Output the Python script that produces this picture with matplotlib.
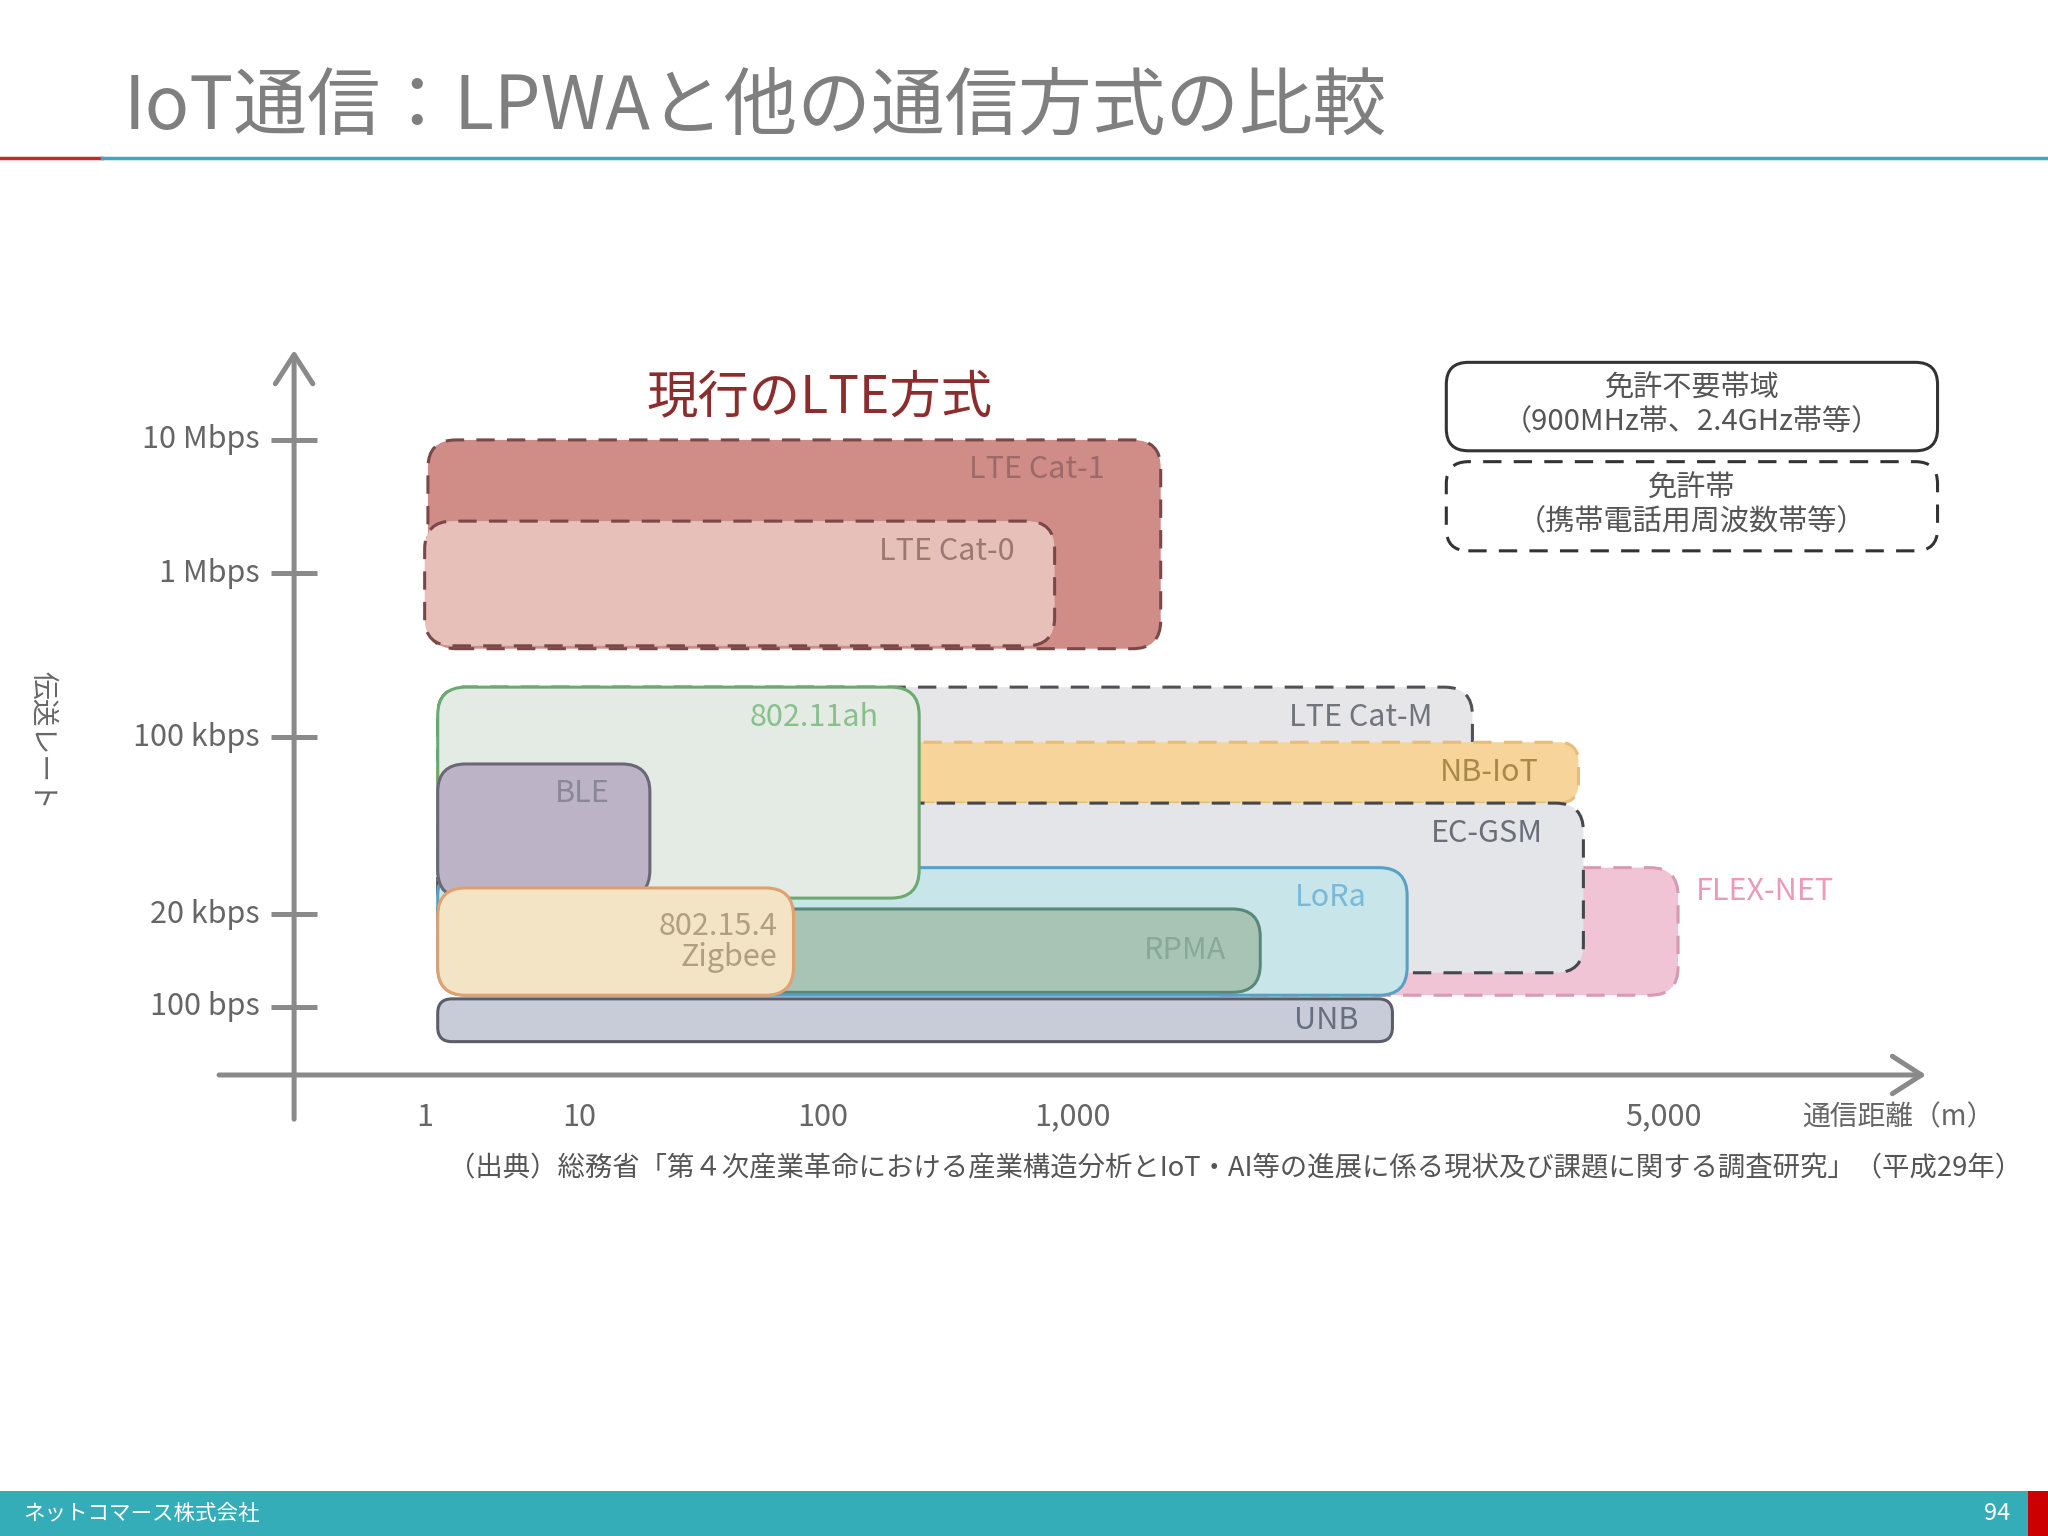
import matplotlib.pyplot as plt
from matplotlib.patches import FancyBboxPatch, Rectangle
from matplotlib.lines import Line2D

plt.rcParams['font.family'] = ['Noto Sans CJK JP', 'DejaVu Sans']

# --------------------------------------------------------------------
# データ（模式図の座標: 横軸=通信距離, 縦軸=伝送レート）
# --------------------------------------------------------------------
x_tick_labels = ["1", "10", "100", "1,000", "5,000"]
x_tick_pos = [8.0, 17.5, 32.4, 47.7, 83.9]

y_tick_labels = ["10 Mbps", "1 Mbps", "100 kbps", "20 kbps", "100 bps"]
y_tick_pos = [87.6, 69.2, 46.6, 22.2, 9.4]

# 描画順（奥 → 手前）
names = ["LTE Cat-1", "LTE Cat-0", "LTE Cat-M", "NB-IoT", "FLEX-NET", "EC-GSM",
         "LoRa", "802.11ah", "BLE", "RPMA", "802.15.4\nZigbee", "UNB"]
range_start = [8.2, 8.0, 8.8, 8.8, 55.0, 8.8, 8.8, 8.8, 8.8, 18.8, 8.8, 8.8]
range_end = [53.1, 46.6, 72.2, 78.7, 84.8, 79.0, 68.2, 38.3, 21.8, 59.2, 30.6, 67.3]
rate_low = [58.8, 59.2, 40.0, 37.5, 11.0, 14.1, 11.0, 24.4, 24.4, 11.4, 11.0, 4.6]
rate_high = [87.6, 76.4, 53.5, 45.9, 28.6, 37.5, 28.6, 53.5, 42.9, 22.9, 25.8, 10.5]
licensed = [True, True, True, True, True, True, False, False, False, False, False, False]

# 色: (塗り, 枠, 文字)
styles = {
    "LTE Cat-1": ("#d08c87", "#7a4848", "#9c6a68"),
    "LTE Cat-0": ("#e8c0ba", "#7a4848", "#9c7874"),
    "LTE Cat-M": ("#e6e6e9", "#4e5258", "#70747c"),
    "NB-IoT": ("#f6d49a", "#e8bc7c", "#a88a48"),
    "FLEX-NET": ("#f0c4d4", "#d89ab0", "#ec9ab8"),
    "EC-GSM": ("#e3e5e9", "#44484e", "#6a6e78"),
    "LoRa": ("#c8e6ea", "#5aa0c4", "#78b8d8"),
    "802.11ah": ("#e4ebe4", "#6aaa70", "#88c08c"),
    "BLE": ("#bcb4c6", "#6a6878", "#8a8898"),
    "RPMA": ("#a8c4b4", "#5a8878", "#88a898"),
    "802.15.4\nZigbee": ("#f2e4c4", "#e0a070", "#b0a080"),
    "UNB": ("#c8ccd8", "#5a5e68", "#687080"),
}

# --------------------------------------------------------------------
# 図
# --------------------------------------------------------------------
fig = plt.figure(figsize=(20.48, 15.36), dpi=100)
fig.patch.set_facecolor("white")

ax = fig.add_axes([0.0161, 0.2435, 0.9722, 0.5475])
ax.set_xlim(-16, 106)
ax.set_ylim(-12, 104)
ax.axis("off")

px_x = ax.bbox.width / 122.0
px_y = ax.bbox.height / 116.0
dash = (0, (6, 4))


def rbox(x0, x1, y0, y1, fc, ec, ls, radius_px, z):
    r = radius_px / px_x
    p = FancyBboxPatch((x0, y0), x1 - x0, y1 - y0,
                       boxstyle=f"round,pad=0,rounding_size={r}",
                       mutation_aspect=px_x / px_y,
                       fc=fc, ec=ec, lw=2.2, ls=ls, zorder=z, clip_on=False)
    ax.add_patch(p)
    return p


for i, name in enumerate(names):
    fc, ec, tc = styles[name]
    h_px = (rate_high[i] - rate_low[i]) * px_y
    radius = min(28, h_px / 3)
    rbox(range_start[i], range_end[i], rate_low[i], rate_high[i], fc, ec,
         dash if licensed[i] else "-", radius, 2 + i)

    if name == "FLEX-NET":
        ax.annotate(name, xy=(range_end[i], rate_high[i]), xytext=(18, -24),
                    textcoords="offset pixels", ha="left", va="center",
                    fontsize=22, color=tc, zorder=30, annotation_clip=False)
    elif name in ("RPMA", "UNB", "802.15.4\nZigbee"):
        ax.annotate(name, xy=(range_end[i], (rate_low[i] + rate_high[i]) / 2),
                    xytext=(-34 if name != "802.15.4\nZigbee" else -16, 0),
                    textcoords="offset pixels", ha="right", va="center",
                    fontsize=22, color=tc, zorder=30, linespacing=1.0,
                    multialignment="right")
    else:
        dx = 56 if name == "LTE Cat-1" else 40
        ax.annotate(name, xy=(range_end[i], rate_high[i]), xytext=(-dx, -30),
                    textcoords="offset pixels", ha="right", va="center",
                    fontsize=22, color=tc, zorder=30)

# 軸（矢印）
axis_col = "#8a8a8a"
ax.annotate("", xy=(100, 0), xytext=(-4.6, 0), annotation_clip=False,
            arrowprops=dict(arrowstyle="->,head_length=0.7,head_width=0.45",
                            color=axis_col, lw=3.6, shrinkA=0, shrinkB=0,
                            mutation_scale=30))
ax.annotate("", xy=(0, 100), xytext=(0, -6.1), annotation_clip=False,
            arrowprops=dict(arrowstyle="->,head_length=0.7,head_width=0.45",
                            color=axis_col, lw=3.6, shrinkA=0, shrinkB=0,
                            mutation_scale=30))

ax.hlines(y_tick_pos, -1.4, 1.4, color=axis_col, lw=3.6, clip_on=False)
for lab, y in zip(y_tick_labels, y_tick_pos):
    ax.text(-2.1, y, lab, ha="right", va="center", fontsize=22, color="#666666")
for lab, x in zip(x_tick_labels, x_tick_pos):
    ax.text(x, -5.8, lab, ha="center", va="center", fontsize=22, color="#666666")
ax.text(98.3, -5.8, "通信距離（m）", ha="center", va="center", fontsize=20,
        color="#666666")

# 現行のLTE方式
ax.text(32.2, 93.4, "現行のLTE方式", ha="center", va="center", fontsize=37,
        color="#8c2c2c")

# 凡例
rbox(70.6, 100.7, 86.1, 98.3, "white", "#333333", "-", 22, 40)
rbox(70.6, 100.7, 72.3, 84.6, "white", "#333333", dash, 22, 40)
ax.text(85.65, 92.4, "免許不要帯域\n（900MHz帯、2.4GHz帯等）", ha="center",
        va="center", fontsize=21, color="#555555", linespacing=1.15, zorder=41)
ax.text(85.65, 78.5, "免許帯\n（携帯電話用周波数帯等）", ha="center",
        va="center", fontsize=21, color="#555555", linespacing=1.15, zorder=41)

# 軸ラベル・出典
fig.text(0.021, 0.518, "伝送レート", rotation=-90, ha="center", va="center",
         fontsize=20, color="#666666")
fig.text(448 / 2048, 1 - 1169 / 1536,
         "（出典）総務省「第４次産業革命における産業構造分析とIoT・AI等の進展に係る現状及び課題に関する調査研究」（平成29年）",
         ha="left", va="center", fontsize=19.7, color="#555555")

# --------------------------------------------------------------------
# スライド装飾
# --------------------------------------------------------------------
fig.text(124 / 2048, 1 - 108 / 1536, "IoT通信：LPWAと他の通信方式の比較",
         ha="left", va="center", fontsize=53, color="#7f7f7f")
fig.add_artist(Line2D([0, 102 / 2048], [1 - 158 / 1536] * 2, color="#c0282d", lw=2.5))
fig.add_artist(Line2D([102 / 2048, 1], [1 - 158 / 1536] * 2, color="#3aacb8", lw=2.5))

fig.add_artist(Rectangle((0, 0), 1, 45 / 1536, transform=fig.transFigure,
                         fc="#35adb9", ec="none"))
fig.add_artist(Rectangle((2028 / 2048, 0), 20 / 2048, 45 / 1536,
                         transform=fig.transFigure, fc="#cc0000", ec="none"))
fig.text(23 / 2048, 22 / 1536, "ネットコマース株式会社", ha="left", va="center",
         fontsize=15.5, color="white")
fig.text(2010 / 2048, 22 / 1536, "94", ha="right", va="center",
         fontsize=17, color="white")

fig.savefig("out.png", dpi=100)
